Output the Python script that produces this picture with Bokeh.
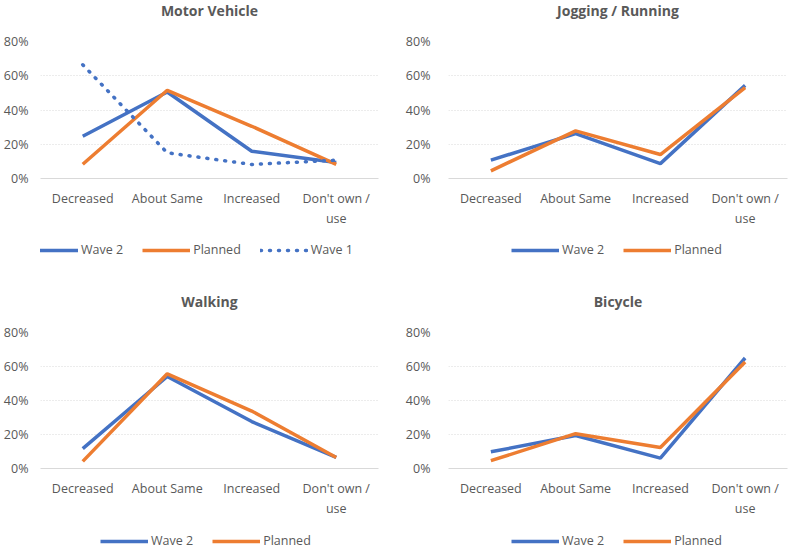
from bokeh.plotting import figure
from bokeh.layouts import column, row
from bokeh.models import Legend, LegendItem, FixedTicker, NumeralTickFormatter, Range1d, FactorRange
from bokeh.embed import file_html
from bokeh.resources import INLINE

categories = ["Decreased", "About Same", "Increased", "Don't own /\nuse"]

mv_wave2 = [0.247, 0.505, 0.159, 0.093]
mv_planned = [0.083, 0.515, 0.305, 0.083]
mv_wave1 = [0.664, 0.150, 0.082, 0.107]

jog_wave2 = [0.107, 0.262, 0.087, 0.544]
jog_planned = [0.045, 0.278, 0.140, 0.530]

walk_wave2 = [0.117, 0.541, 0.276, 0.065]
walk_planned = [0.042, 0.557, 0.338, 0.065]

bike_wave2 = [0.098, 0.194, 0.061, 0.650]
bike_planned = [0.046, 0.205, 0.123, 0.626]

y_ticks = [0, 0.2, 0.4, 0.6, 0.8]

BLUE = "#4472C4"
ORANGE = "#ED7D31"
TEXT = "#595959"
GRID = "#D9D9D9"
FONT = "Open Sans"


def style_line(fig, xs, ys, color, dash):
    if dash:
        return fig.line(xs, ys, line_color=color, line_width=3.5,
                        line_dash="1 8", line_cap="round")
    return fig.line(xs, ys, line_color=color, line_width=3.5)


def make_panel(title, series, width, title_h, title_top, title_off,
               height, mleft, mright, mtop, mbottom, ystand, leg_h, legx, legy):
    # title strip
    tp = figure(width=width, height=title_h, x_axis_type=None, y_axis_type=None,
                output_backend="svg", toolbar_location=None, min_border=0,
                min_border_top=title_top, title=title)
    tp.outline_line_color = None
    tp.grid.visible = False
    tp.title.align = "center"
    tp.title.vertical_align = "top"
    tp.title.standoff = 0
    tp.title.offset = title_off
    tp.title.text_font = FONT
    tp.title.text_font_size = "14px"
    tp.title.text_font_style = "bold"
    tp.title.text_color = TEXT

    # chart
    p = figure(width=width, height=height, x_range=FactorRange(*categories, range_padding=0),
               y_range=Range1d(0, 0.8), output_backend="svg", toolbar_location=None,
               min_border_left=mleft, min_border_right=mright,
               min_border_top=mtop, min_border_bottom=mbottom)
    p.outline_line_color = None
    p.xgrid.grid_line_color = None
    p.ygrid.grid_line_color = GRID
    p.ygrid.grid_line_dash = "1 2"
    p.yaxis.ticker = FixedTicker(ticks=y_ticks)
    p.yaxis.formatter = NumeralTickFormatter(format="0%")
    p.yaxis.axis_line_color = None
    p.yaxis.major_tick_line_color = None
    p.yaxis.minor_tick_line_color = None
    p.yaxis.major_label_standoff = ystand
    p.xaxis.axis_line_color = GRID
    p.xaxis.major_tick_line_color = None
    p.xaxis.minor_tick_line_color = None
    p.xaxis.major_label_standoff = 5
    for ax in (p.xaxis[0], p.yaxis[0]):
        ax.major_label_text_font = FONT
        ax.major_label_text_font_size = "12.5px"
        ax.major_label_text_color = TEXT
    for name, vals, color, dash in series:
        style_line(p, categories, vals, color, dash)

    # legend strip below the chart (same series, drawn outside its visible range)
    lp = figure(width=width, height=leg_h, x_range=FactorRange(*categories, range_padding=0),
                y_range=Range1d(2, 3), x_axis_type=None, y_axis_type=None,
                output_backend="svg", toolbar_location=None, min_border=0)
    lp.grid.visible = False
    lp.outline_line_color = None
    items = []
    for name, vals, color, dash in series:
        r = style_line(lp, categories, vals, color, dash)
        items.append(LegendItem(label=name, renderers=[r]))
    leg = Legend(items=items, orientation="horizontal", location=(legx, legy),
                 glyph_width=48, glyph_height=12, label_standoff=3, spacing=19,
                 label_text_font=FONT, label_text_font_size="12.5px",
                 label_text_color=TEXT, border_line_color=None,
                 background_fill_alpha=0, padding=0, margin=0)
    lp.add_layout(leg)
    return column(tp, p, lp, spacing=0)


c1 = make_panel("Motor Vehicle",
                [("Wave 2", mv_wave2, BLUE, False), ("Planned", mv_planned, ORANGE, False),
                 ("Wave 1", mv_wave1, BLUE, True)],
                394, 24, 0, -16,
                212, 40, 16, 17, 58, 6, 34, -10, 12)
c2 = make_panel("Jogging / Running",
                [("Wave 2", jog_wave2, BLUE, False), ("Planned", jog_planned, ORANGE, False)],
                395, 24, 0, -16,
                212, 54, 2, 17, 58, 12, 34, 63, 12)
c3 = make_panel("Walking",
                [("Wave 2", walk_wave2, BLUE, False), ("Planned", walk_planned, ORANGE, False)],
                394, 45, 42, -16,
                204, 40, 16, 17, 48, 6, 30, 60, 0)
c4 = make_panel("Bicycle",
                [("Wave 2", bike_wave2, BLUE, False), ("Planned", bike_planned, ORANGE, False)],
                395, 45, 42, -16,
                204, 54, 2, 17, 48, 12, 30, 63, 0)

layout = column(row(c1, c2, spacing=0), row(c3, c4, spacing=0), spacing=0)

open("out.html", "w").write(file_html(layout, INLINE))
